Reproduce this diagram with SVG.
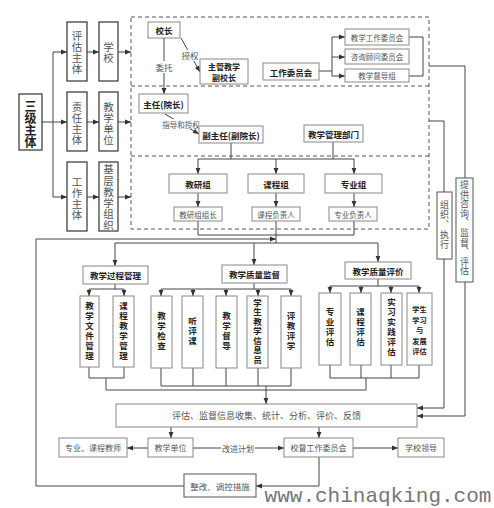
<svg xmlns="http://www.w3.org/2000/svg" width="494" height="508" viewBox="0 0 494 508">
<defs>
<style>
.b{fill:#fff;stroke:#888;stroke-width:1}
.bd{fill:#fff;stroke:#333;stroke-width:1.2}
.bm{fill:#fff;stroke:#555;stroke-width:1}
text{font-family:"Noto Sans CJK SC","Noto Sans",sans-serif;text-anchor:middle;dominant-baseline:central;fill:#555}
.k{font-weight:bold;fill:#222;font-size:8.5px}
.s{font-size:7.5px}
.m{font-size:8px}
.vt{writing-mode:vertical-rl;font-size:10.5px;letter-spacing:0.6px}
.vb{writing-mode:vertical-rl;font-weight:bold;fill:#222;font-size:8.5px;letter-spacing:1.5px}
.ln{stroke:#444;stroke-width:1;fill:none}
.ar{stroke:#444;stroke-width:1;fill:none;marker-end:url(#a)}
.dash{stroke:#555;stroke-width:1;stroke-dasharray:4 3;fill:none}
.bg{fill:#fff;stroke:none}
</style>
<marker id="a" viewBox="0 0 10 10" refX="10" refY="5" markerWidth="7" markerHeight="6" orient="auto" markerUnits="userSpaceOnUse"><path d="M0,1 L10,5 L0,9 z" fill="#333"/></marker>
</defs>
<rect width="494" height="508" fill="#fff"/>

<g id="frames">
<rect class="dash" x="131" y="17" width="298" height="212"/>
<line class="dash" x1="131" y1="86" x2="429" y2="86"/>
<line class="dash" x1="131" y1="156" x2="429" y2="156"/>
</g>

<g id="connectors">
<path class="ln" d="M42,122 H53 M53,52 V197"/>
<path class="ar" d="M53,52 H67"/>
<path class="ar" d="M53,122 H67"/>
<path class="ar" d="M53,197 H67"/>
<path class="ar" d="M87,52 H99"/>
<path class="ar" d="M87,122 H99"/>
<path class="ar" d="M87,197 H99"/>
<path class="ar" d="M118,52 H131"/>
<path class="ar" d="M118,122 H131"/>
<path class="ar" d="M118,197 H131"/>
<path class="ar" d="M164,38 V94"/>
<path class="ar" d="M181,38 L200,72"/>
<path class="ln" d="M319,71 H332 M332,37 V76"/>
<path class="ar" d="M332,37 H345"/>
<path class="ar" d="M332,57 H345"/>
<path class="ar" d="M332,76 H345"/>
<path class="ln" d="M409,37 H423 V76 H409"/>
<path class="ln" d="M429,66 H465 V178"/>
<path class="ln" d="M429,121 H444 V192"/>
<path class="ar" d="M165,114 L199,134"/>
<path class="ln" d="M231,143 V159 M333,142 V159 M198,159 H354"/>
<path class="ar" d="M198,159 V174"/>
<path class="ar" d="M276,159 V174"/>
<path class="ar" d="M354,159 V174"/>
<path class="ar" d="M198,193 V207"/>
<path class="ar" d="M276,193 V207"/>
<path class="ar" d="M354,193 V207"/>
<path class="ln" d="M198,221 V235 H354 V221 M276,221 V243 M115,243 H378"/>
<path class="ar" d="M115,243 V266"/>
<path class="ar" d="M254,243 V265"/>
<path class="ar" d="M378,243 V262"/>
<path class="ar" d="M184,486 H36 V239 H276"/>
<path class="ln" d="M115,284 V289 M89,289 H124"/>
<path class="ar" d="M89,289 V296"/>
<path class="ar" d="M124,289 V296"/>
<path class="ln" d="M254,283 V289 M161,289 H291"/>
<path class="ar" d="M161,289 V296"/>
<path class="ar" d="M193,289 V296"/>
<path class="ar" d="M226,289 V296"/>
<path class="ar" d="M258,289 V296"/>
<path class="ar" d="M291,289 V296"/>
<path class="ln" d="M378,279 V286 M330,286 H419"/>
<path class="ar" d="M330,286 V293"/>
<path class="ar" d="M361,286 V293"/>
<path class="ar" d="M391,286 V293"/>
<path class="ar" d="M419,286 V293"/>
<path class="ln" d="M89,367 V378 H124 V367 M106,378 V390 H366"/>
<path class="ln" d="M161,368 V386 M193,368 V386 M226,368 V386 M258,368 V386 M291,368 V386 M161,386 H291"/>
<path class="ln" d="M330,365 V378 M361,365 V378 M391,365 V378 M419,365 V378 M330,378 H419 M366,378 V390"/>
<path class="ar" d="M266,386 V404"/>
<path class="ar" d="M444,259 V408 H417"/>
<path class="ar" d="M465,282 V416 H417"/>
<path class="ar" d="M171,427 V438"/>
<path class="ar" d="M319,427 V438"/>
<path class="ar" d="M148,448 H127"/>
<path class="ar" d="M193,448 H284"/>
<path class="ar" d="M353,448 H398"/>
<path class="ar" d="M319,457 V486 H256"/>
<rect class="bg" x="156" y="61" width="16" height="12"/>
<text x="164" y="67" style="font-size:8.5px">委托</text>
<rect class="bg" x="182" y="50" width="16" height="11"/>
<text x="190" y="55" style="font-size:8.5px">授权</text>
<rect class="bg" x="162" y="119" width="38" height="10"/>
<text class="s" x="181" y="124">指导和授权</text>
<rect class="bg" x="221" y="443" width="34" height="10"/>
<text class="m" x="238" y="448">改进计划</text>
</g>

<g id="n_sanji"><rect class="bd" x="19" y="94" width="23" height="56"/>
<text class="vt" x="30.5" y="124.2" style="font-size:12px;letter-spacing:0;font-weight:bold;fill:#222">三级主体</text></g>

<g id="n_pinggu"><rect class="bd" x="67" y="22" width="20" height="59"/><text class="vt" x="77" y="52.6">评估主体</text></g>
<g id="n_xuexiao"><rect class="bd" x="99" y="22" width="19" height="59"/><text class="vt" x="108.5" y="53.2">学校</text></g>
<g id="n_zeren"><rect class="bd" x="67" y="92" width="20" height="59"/><text class="vt" x="77" y="123.5">责任主体</text></g>
<g id="n_danwei"><rect class="bd" x="99" y="92" width="19" height="59"/><text class="vt" x="108.5" y="123.5">教学单位</text></g>
<g id="n_gongzuo"><rect class="bd" x="67" y="162" width="20" height="69"/><text class="vt" x="77" y="198.5">工作主体</text></g>
<g id="n_jiceng"><rect class="bd" x="99" y="162" width="19" height="69"/><text class="vt" x="108.5" y="197.5">基层教学组织</text></g>

<g id="n_xiaozhang"><rect class="b" x="148" y="22" width="32" height="16"/><text class="k" x="164" y="30">校长</text></g>
<g id="n_fuxiaozhang"><rect class="b" x="200" y="59" width="48" height="25"/><text class="k" style="font-size:8px"><tspan x="224" y="65.5">主管教学</tspan><tspan x="224" y="77">副校长</tspan></text></g>
<g id="n_weiyuanhui"><rect class="b" x="263" y="63" width="56" height="17"/><text class="k" x="291" y="71.5">工作委员会</text></g>
<g id="n_jxgzwyh"><rect class="b" x="345" y="29" width="64" height="16"/><text class="s" x="377" y="37">教学工作委员会</text></g>
<g id="n_zxgwwyh"><rect class="b" x="345" y="49" width="64" height="15"/><text class="s" x="377" y="56.5">咨询顾问委员会</text></g>
<g id="n_ddz"><rect class="b" x="345" y="69" width="64" height="13"/><text class="s" x="377" y="75.5">教学督导组</text></g>

<g id="n_zhuren"><rect class="b" x="139" y="94" width="49" height="19"/><text class="k" x="163.5" y="103.5">主任(院长)</text></g>
<g id="n_fuzhuren"><rect class="b" x="199" y="126" width="64" height="17"/><text class="k" x="231" y="134.5">副主任(副院长)</text></g>
<g id="n_guanli"><rect class="b" x="304" y="125" width="59" height="17"/><text class="k" x="333.5" y="133.5">教学管理部门</text></g>

<g id="n_jiaoyan"><rect class="b" x="169" y="174" width="58" height="19"/><text class="k" x="198" y="183.5">教研组</text></g>
<g id="n_kecheng"><rect class="b" x="248" y="174" width="56" height="19"/><text class="k" x="276" y="183.5">课程组</text></g>
<g id="n_zhuanye"><rect class="b" x="325" y="174" width="57" height="19"/><text class="k" x="353.5" y="183.5">专业组</text></g>
<g id="n_jyzz"><rect class="b" x="174" y="207" width="48" height="14"/><text class="s" x="198" y="214">教研组组长</text></g>
<g id="n_kcfzr"><rect class="b" x="252" y="207" width="48" height="14"/><text class="s" x="276" y="214">课程负责人</text></g>
<g id="n_zyfzr"><rect class="b" x="329" y="207" width="48" height="14"/><text class="s" x="353" y="214">专业负责人</text></g>

<g id="n_zhizhi"><rect class="bm" x="437" y="192" width="15" height="67"/><text class="vt" x="444.5" y="225" style="font-size:9px;letter-spacing:1px">组织、执行</text></g>
<g id="n_tigong"><rect class="bm" x="456" y="178" width="17" height="104"/><text class="vt" x="464.5" y="228" style="font-size:9px;letter-spacing:0.6px">提供咨询、监督、评估</text></g>

<g id="n_guocheng"><rect class="b" x="83" y="266" width="65" height="18"/><text class="k" x="115.5" y="275">教学过程管理</text></g>
<g id="n_jiandu"><rect class="b" x="222" y="265" width="65" height="18"/><text class="k" x="254.5" y="274">教学质量监督</text></g>
<g id="n_pingjia"><rect class="b" x="345" y="262" width="66" height="17"/><text class="k" x="378" y="270.5">教学质量评价</text></g>

<g id="n_wenjian"><rect class="b" x="80" y="296" width="19" height="71"/><text class="vb" x="89.5" y="332">教学文件管理</text></g>
<g id="n_kcjx"><rect class="b" x="113" y="296" width="21" height="71"/><text class="vb" x="123.5" y="332">课程教学管理</text></g>

<g id="n_jiancha"><rect class="b" x="151" y="296" width="21" height="72"/><text class="vb" x="161.5" y="332">教学检查</text></g>
<g id="n_tingping"><rect class="b" x="182" y="296" width="21" height="72"/><text class="vb" x="192.5" y="332">听评课</text></g>
<g id="n_dudao"><rect class="b" x="216" y="296" width="21" height="72"/><text class="vb" x="226.5" y="332">教学督导</text></g>
<g id="n_xinxiyuan"><rect class="b" x="247" y="296" width="21" height="72"/><text class="vb" x="257.5" y="331.5" style="letter-spacing:1px">学生教学信息员</text></g>
<g id="n_pingjiao"><rect class="b" x="281" y="296" width="20" height="72"/><text class="vb" x="291" y="332">评教评学</text></g>

<g id="n_zypg"><rect class="b" x="319" y="293" width="22" height="72"/><text class="vb" x="330" y="328">专业评估</text></g>
<g id="n_kcpg"><rect class="b" x="350" y="293" width="21" height="72"/><text class="vb" x="360.5" y="328">课程评估</text></g>
<g id="n_sxsj"><rect class="b" x="381" y="293" width="21" height="72"/><text class="vb" x="391.5" y="328">实习实践评估</text></g>
<g id="n_xsxx"><rect class="b" x="407" y="293" width="25" height="72"/>
<text class="k" style="font-size:7.2px"><tspan x="419.5" y="309">学生</tspan><tspan x="419.5" y="319.5">学习</tspan><tspan x="419.5" y="330">与</tspan><tspan x="419.5" y="340.5">发展</tspan><tspan x="419.5" y="351">评估</tspan></text></g>

<g id="n_xinxi"><rect class="b" x="116" y="404" width="301" height="23"/><text x="266.5" y="415.5" style="font-size:9px">评估、监督信息收集、统计、分析、评价、反馈</text></g>
<g id="n_jiaoshi"><rect class="b" x="59" y="438" width="68" height="19"/><text class="m" x="93" y="447.5">专业、课程教师</text></g>
<g id="n_jxdw"><rect class="b" x="148" y="438" width="45" height="19"/><text class="m" x="170.5" y="447.5">教学单位</text></g>
<g id="n_xiaodu"><rect class="b" x="284" y="438" width="69" height="19"/><text class="m" x="318.5" y="447.5">校督工作委员会</text></g>
<g id="n_lingdao"><rect class="b" x="398" y="438" width="46" height="19"/><text class="m" x="421" y="447.5">学校领导</text></g>
<g id="n_zhenggai"><rect class="bm" x="184" y="474" width="72" height="23"/><text x="220" y="485.5" style="font-size:8.5px">整改、调控措施</text></g>

<g id="watermark">
<text x="378" y="496" style="font-family:'Liberation Mono',monospace;font-size:21px;fill:#777">www.chinaqking.com</text>
</g>
</svg>
